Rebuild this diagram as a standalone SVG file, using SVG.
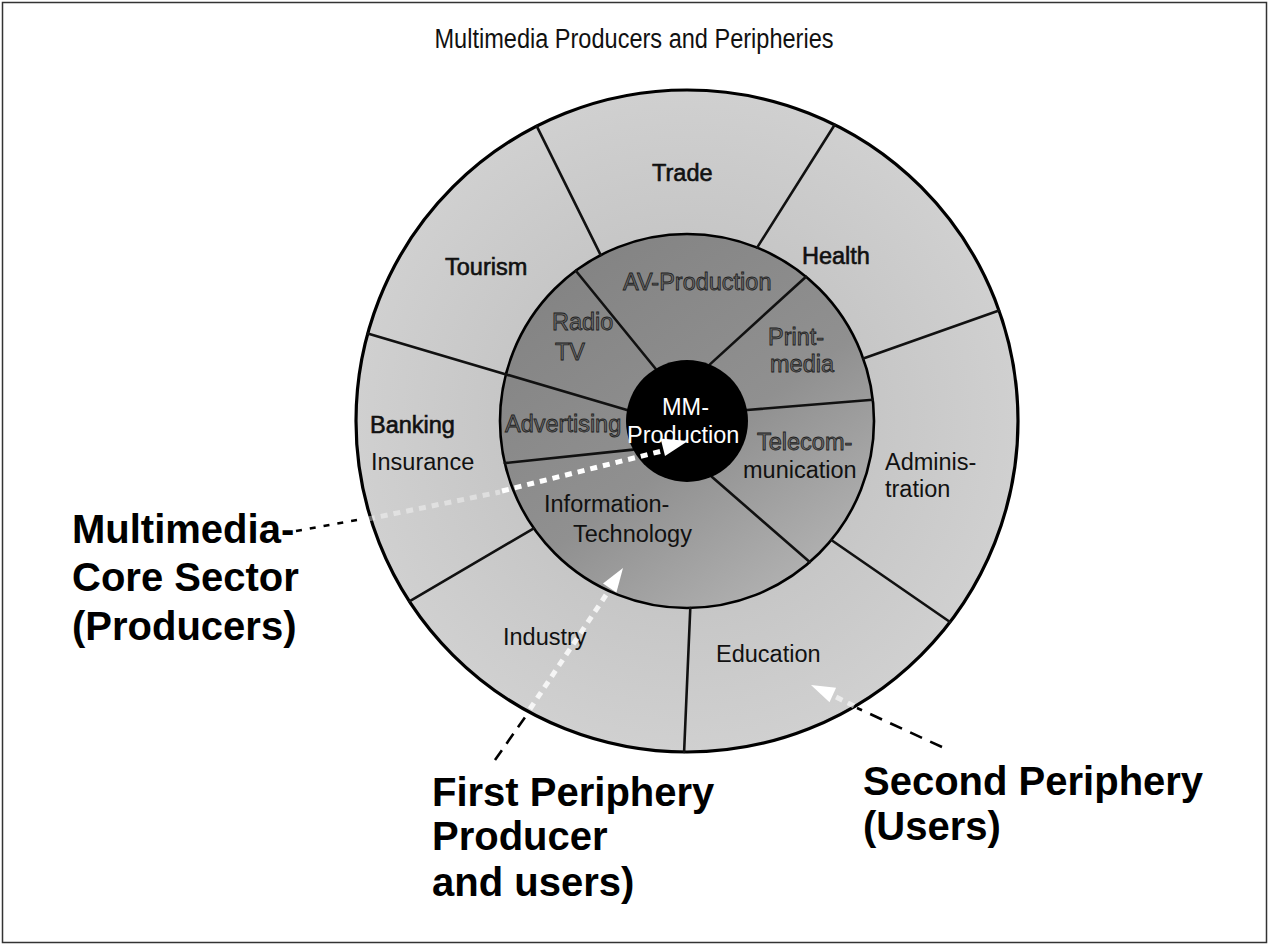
<svg xmlns="http://www.w3.org/2000/svg" width="1269" height="945" viewBox="0 0 1269 945">
<defs>
<linearGradient id="coreGrad" x1="0.2" y1="0.1" x2="0.8" y2="0.95">
<stop offset="0" stop-color="#848484"/>
<stop offset="0.55" stop-color="#909090"/>
<stop offset="1" stop-color="#b2b2b2"/>
</linearGradient>
<radialGradient id="outerGrad" cx="0.5" cy="0.5" r="0.5">
<stop offset="0.55" stop-color="#c6c6c6"/>
<stop offset="1" stop-color="#d0d0d0"/>
</radialGradient>
<style>
.lbl{font-family:"Liberation Sans",Arial,sans-serif;font-size:23.5px;fill:#111}
.lbb{font-family:"Liberation Sans",Arial,sans-serif;font-size:23.5px;fill:#111;stroke:#111;stroke-width:0.6}
.hol{font-family:"Liberation Sans",Arial,sans-serif;font-size:23.5px;fill:#6a6a6a;stroke:#202020;stroke-width:0.8}
.wht{font-family:"Liberation Sans",Arial,sans-serif;font-size:23.5px;fill:#fff}
.big{font-family:"Liberation Sans",Arial,sans-serif;font-size:40px;font-weight:bold;fill:#000}
.div{stroke:#111;stroke-width:2.6;fill:none;stroke-linecap:round}
.blk{stroke:#000;stroke-width:2.6;fill:none}
.wdot{stroke:#fff;stroke-width:5;fill:none;stroke-dasharray:7 6}
.warr{fill:#fff}
</style>
</defs>
<rect x="0" y="0" width="1269" height="945" fill="#fff"/>
<rect x="2.5" y="2.5" width="1264" height="940" fill="none" stroke="#333" stroke-width="1.5"/>
<text x="634" y="48" text-anchor="middle" font-family="Liberation Sans, Arial, sans-serif" font-size="27" fill="#111" textLength="399" lengthAdjust="spacingAndGlyphs">Multimedia Producers and Peripheries</text>

<g id="rings">
<circle cx="687" cy="421" r="331" fill="url(#outerGrad)" stroke="#000" stroke-width="3.2"/>
<circle cx="687" cy="421" r="187" fill="url(#coreGrad)" stroke="#000" stroke-width="2.6"/>
</g>

<g id="dividers">
<line class="div" x1="536.7" y1="126.1" x2="600.7" y2="255.1"/>
<line class="div" x1="834.7" y1="124.8" x2="757.1" y2="247.6"/>
<line class="div" x1="999" y1="310.5" x2="863.3" y2="358.6"/>
<line class="div" x1="950" y1="622" x2="831.3" y2="540"/>
<line class="div" x1="690.3" y1="608" x2="684.1" y2="752"/>
<line class="div" x1="533.8" y1="528.3" x2="409.4" y2="601.3"/>
<line class="div" x1="367.7" y1="333.6" x2="627" y2="410"/>
<line class="div" x1="575.8" y1="270.7" x2="655.6" y2="368.7"/>
<line class="div" x1="806" y1="276.7" x2="709.9" y2="364.4"/>
<line class="div" x1="872.8" y1="399.8" x2="747" y2="410"/>
<line class="div" x1="711.8" y1="476.7" x2="809.7" y2="562.1"/>
<line class="div" x1="504.8" y1="463.1" x2="633.1" y2="449.6"/>
</g>

<g id="mm-production">
<circle cx="687" cy="421" r="61" fill="#000"/>
<text class="wht" x="662" y="415">MM-</text>
<text class="wht" x="627" y="443">Production</text>
</g>

<g id="trade"><text class="lbb" x="652" y="181">Trade</text></g>
<g id="tourism"><text class="lbb" x="445" y="275">Tourism</text></g>
<g id="health"><text class="lbb" x="802" y="264">Health</text></g>
<g id="banking-insurance">
<text class="lbb" x="370" y="433">Banking</text>
<text class="lbl" x="371" y="470">Insurance</text>
</g>
<g id="administration">
<text class="lbl" x="885" y="470">Adminis-</text>
<text class="lbl" x="885" y="497">tration</text>
</g>
<g id="industry"><text class="lbl" x="503" y="645">Industry</text></g>
<g id="education"><text class="lbl" x="716" y="662">Education</text></g>

<g id="av-production"><text class="hol" x="623" y="290">AV-Production</text></g>
<g id="radio-tv">
<text class="hol" x="552" y="330">Radio</text>
<text class="hol" x="555" y="360">TV</text>
</g>
<g id="print-media">
<text class="hol" x="768" y="345">Print-</text>
<text class="hol" x="770" y="372">media</text>
</g>
<g id="advertising"><text class="hol" x="505" y="432">Advertising</text></g>
<g id="telecommunication">
<text class="hol" x="757" y="450">Telecom-</text>
<text class="lbl" x="743" y="478">munication</text>
</g>
<g id="information-technology">
<text class="lbl" x="544" y="512">Information-</text>
<text class="lbl" x="573" y="542">Technology</text>
</g>

<g id="label-core">
<text class="big" x="72" y="543">Multimedia-</text>
<text class="big" x="72" y="591">Core Sector</text>
<text class="big" x="72" y="640">(Producers)</text>
</g>
<g id="label-first">
<text class="big" x="432" y="806">First Periphery</text>
<text class="big" x="432" y="850">Producer</text>
<text class="big" x="432" y="896">and users)</text>
</g>
<g id="label-second">
<text class="big" x="863" y="795">Second Periphery</text>
<text class="big" x="863" y="840">(Users)</text>
</g>

<g id="connectors">
<line class="blk" x1="296" y1="531" x2="362" y2="519" stroke-width="2.2" stroke-dasharray="6 8"/>
<line class="wdot" x1="368" y1="519" x2="500" y2="492" stroke-opacity="0.4"/>
<line class="wdot" x1="502" y1="491" x2="662" y2="451"/>
<polygon class="warr" points="688,441 665,456 660.6,438.6"/>

<line class="blk" x1="495" y1="760" x2="528" y2="713" stroke-dasharray="12 8"/>
<line class="wdot" x1="530" y1="709" x2="608" y2="592" stroke-width="4" stroke-dasharray="10 8" stroke-opacity="0.8"/>
<polygon class="warr" points="623,568 616.4,592.4 603,583.6"/>

<line class="blk" x1="942" y1="747" x2="857" y2="708" stroke-dasharray="13 9"/>
<line class="wdot" x1="854" y1="706" x2="834" y2="696" stroke-width="4" stroke-opacity="0.6"/>
<polygon class="warr" points="811,685 836.1,687.7 829.5,702.3"/>
</g>
</svg>
